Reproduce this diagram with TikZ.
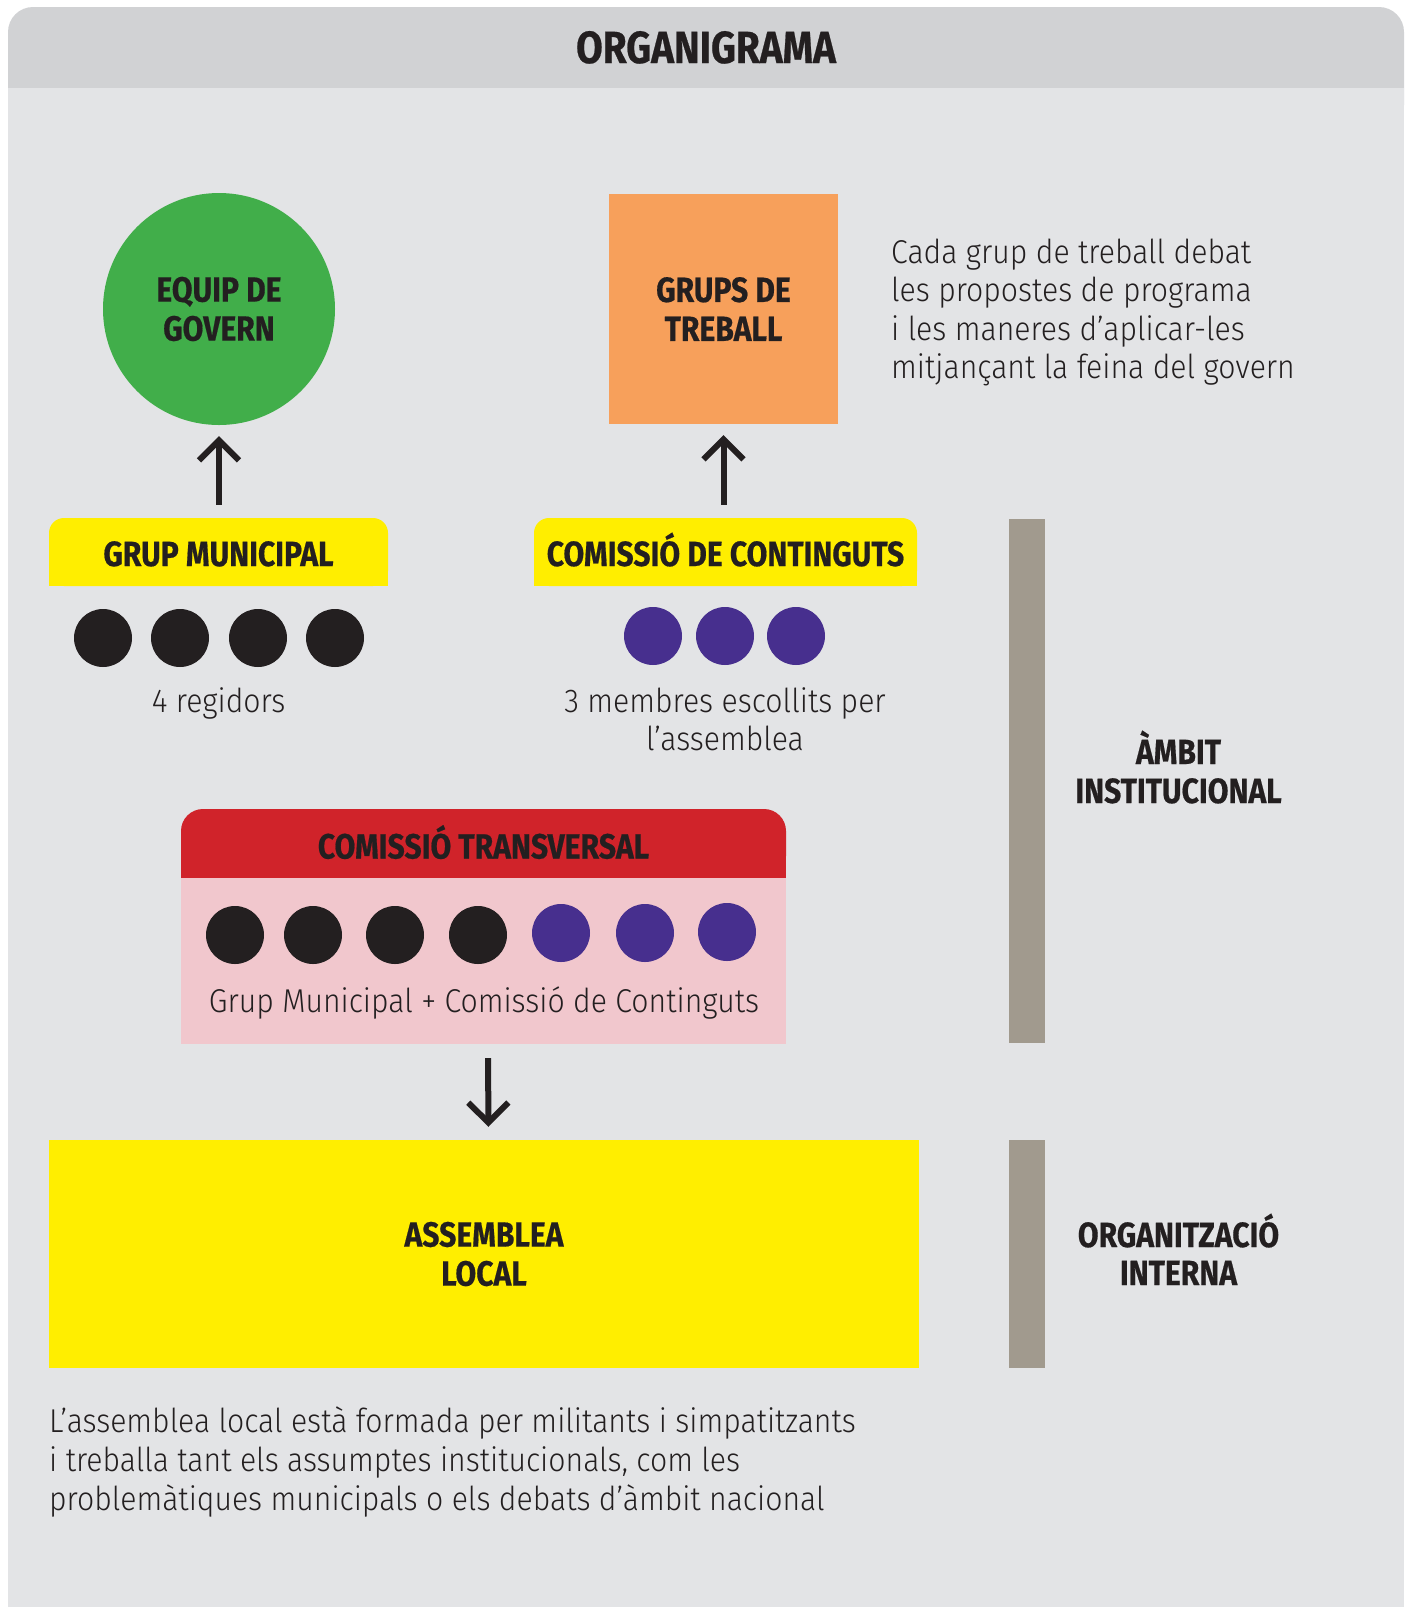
\documentclass[tikz,border=0pt]{standalone}
\usepackage{fontspec}
\usetikzlibrary{arrows.meta}
\newfontfamily\headfont[FakeStretch=0.86,FakeBold=0.5]{Fira Sans Bold}
\newfontfamily\bodyfont[FakeStretch=0.915]{Fira Sans Light}
\definecolor{hdr}{HTML}{D1D2D4}
\definecolor{panel}{HTML}{E3E4E6}
\definecolor{ink}{HTML}{231F20}
\definecolor{grn}{HTML}{41AE4A}
\definecolor{org}{HTML}{F7A05B}
\definecolor{yel}{HTML}{FFEE00}
\definecolor{rd}{HTML}{D0232A}
\definecolor{pnk}{HTML}{F1C7CD}
\definecolor{purp}{HTML}{472F8E}
\definecolor{bargray}{HTML}{A19A8E}
\pgfdeclarelayer{bg}
\pgfdeclarelayer{mid}
\pgfsetlayers{bg,mid,main}
\begin{document}
\begin{tikzpicture}[x=1pt,y=-1pt,
  head/.style={font=\headfont\fontsize{35}{39}\selectfont, text=ink, align=center, inner sep=0pt},
  body/.style={font=\bodyfont\fontsize{33}{38.5}\selectfont, text=ink, inner sep=0pt},
  dot/.style={circle, minimum size=58pt, inner sep=0pt},
  blackdot/.style={dot, fill=ink},
  purpledot/.style={dot, fill=purp},
  bar/.style={fill=bargray, minimum width=36pt, inner sep=0pt},
  tab/.style={head, fill=yel, rounded corners=15pt, minimum height=68pt, text height=28pt, text depth=0pt},
  arr/.style={draw=ink, line width=6pt, -{Straight Barb[length=20pt,width=40pt]}}]
\useasboundingbox (0,0) rectangle (1407,1607);
\begin{pgfonlayer}{bg}
  \fill[hdr, rounded corners=25pt] (8,7) rectangle (1404,130);
  \fill[panel] (8,88) rectangle (1404,1607);
\end{pgfonlayer}
\node[head, font=\headfont\fontsize{45}{50}\selectfont, anchor=base] (title) at (706,63) {ORGANIGRAMA};
% top row
\node[head, circle, fill=grn, minimum size=232pt] (eg) at (219,309) {EQUIP DE\\GOVERN};
\node[head, fill=org, minimum width=229pt, minimum height=230pt] (gt) at (723.5,309) {GRUPS DE\\TREBALL};
\node[body, anchor=base west] (t1) at (891,263) {Cada grup de treball debat};
\node[body, anchor=base west] (t2) at (891,301.5) {les propostes de programa};
\node[body, anchor=base west] (t3) at (891,340) {i les maneres d’aplicar-les};
\node[body, anchor=base west] (t4) at (891,378.5) {mitjançant la feina del govern};
% tabs
\node[tab, minimum width=339pt] (gm) at (218.5,552) {GRUP MUNICIPAL};
\node[tab, minimum width=383pt] (cc) at (725.5,552) {COMISSIÓ DE CONTINGUTS};
\begin{pgfonlayer}{mid}
  \fill[yel] (gm.west) rectangle (gm.south east);
  \fill[yel] (cc.west) rectangle (cc.south east);
\end{pgfonlayer}
\node[blackdot] (g1) at (103,638) {};
\node[blackdot] (g2) at (180,638) {};
\node[blackdot] (g3) at (258,638) {};
\node[blackdot] (g4) at (335,638) {};
\node[purpledot] (c1) at (653,636) {};
\node[purpledot] (c2) at (725,636) {};
\node[purpledot] (c3) at (796,636) {};
\node[body, anchor=base] (reg) at (218.6,712) {4 regidors};
\node[body, anchor=base] (mem1) at (725,712) {3 membres escollits per};
\node[body, anchor=base] (mem2) at (725,750) {l’assemblea};
% arrows up
\draw[arr, shorten <=13pt, shorten >=11pt] (eg.south |- gm.north) -- (eg.south);
\draw[arr, shorten <=13pt, shorten >=11pt] (gt.south |- cc.north) -- (gt.south);
% comissio transversal
\node[head, fill=rd, rounded corners=22pt, minimum width=605pt, minimum height=69pt, text height=30pt, text depth=0pt] (ctr) at (483.5,843.5) {COMISSIÓ TRANSVERSAL};
\node[fill=pnk, minimum width=605pt, minimum height=166pt, inner sep=0pt] (ctb) at (483.5,961) {};
\begin{pgfonlayer}{mid}
  \fill[rd] (ctr.west) rectangle (ctr.south east);
\end{pgfonlayer}
\node[blackdot] (x1) at (235,935) {};
\node[blackdot] (x2) at (313,935) {};
\node[blackdot] (x3) at (395,935) {};
\node[blackdot] (x4) at (478,935) {};
\node[purpledot] (x5) at (561,933) {};
\node[purpledot] (x6) at (645,933) {};
\node[purpledot] (x7) at (727,932) {};
\node[body, anchor=base] (ctcap) at (484,1012) {Grup Municipal + Comissió de Continguts};
% assemblea
\node[head, fill=yel, minimum width=870pt, minimum height=228pt] (al) at (484,1254) {ASSEMBLEA\\LOCAL};
\draw[arr, shorten <=14pt, shorten >=13pt] ([xshift=4.5pt]ctb.south) -- ([xshift=4.5pt]al.north);
% side bars
\node[bar, minimum height=524pt] (b1) at (1027,781) {};
\node[bar, minimum height=228pt] (b2) at (1027,1254) {};
\node[head, anchor=base] (ai1) at (1178.5,764) {ÀMBIT};
\node[head, anchor=base] (ai2) at (1178.5,803) {INSTITUCIONAL};
\node[head, anchor=base] (oi1) at (1178.5,1247) {ORGANITZACIÓ};
\node[head, anchor=base] (oi2) at (1178.5,1285) {INTERNA};
% bottom text
\node[body, anchor=base west] (bt1) at (49,1432) {L’assemblea local està formada per militants i simpatitzants};
\node[body, anchor=base west] (bt2) at (49,1471) {i treballa tant els assumptes institucionals, com les};
\node[body, anchor=base west] (bt3) at (49,1510) {problemàtiques municipals o els debats d’àmbit nacional};
\end{tikzpicture}
\end{document}
